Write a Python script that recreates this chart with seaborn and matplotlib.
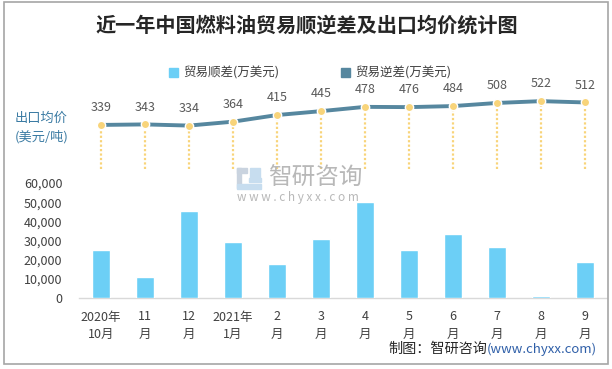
import numpy as np
import pandas as pd
import matplotlib
matplotlib.use("Agg")
import matplotlib.pyplot as plt
from matplotlib.patches import Patch, Rectangle
import seaborn as sns

# ---- data ----
months = ["2020年\n10月", "11\n月", "12\n月", "2021年\n1月", "2\n月", "3\n月",
          "4\n月", "5\n月", "6\n月", "7\n月", "8\n月", "9\n月"]
trade_surplus = [24900, 10700, 45600, 29400, 18000, 31000,
                 50300, 25300, 33600, 26800, 1200, 19000]
export_price = [339, 343, 334, 364, 415, 445, 478, 476, 484, 508, 522, 512]
y_ticks = [0, 10000, 20000, 30000, 40000, 50000, 60000]
title = "近一年中国燃料油贸易顺逆差及出口均价统计图"
legend_labels = ["贸易顺差(万美元)", "贸易逆差(万美元)"]

BAR_C = "#6ccff6"
LINE_C = "#56879f"
GOLD = "#f8d47a"

sns.set_theme(style="white")
plt.rcParams["font.family"] = ["Noto Sans CJK SC", "DejaVu Sans"]
plt.rcParams["axes.unicode_minus"] = False

df = pd.DataFrame({"month": months, "surplus": trade_surplus, "price": export_price})
df["pos"] = np.arange(len(df))

W, H = 612, 369
fig = plt.figure(figsize=(W / 100, H / 100), dpi=100)

def fx(x):
    return x / W

def fy(y):
    return 1 - y / H

# frame
fig.patches.append(Rectangle((fx(4), fy(364)), fx(604), 362 / H, transform=fig.transFigure,
                             fill=False, ec="#a6a6a6", lw=1.2, zorder=0))

# ---- bar axes ----
ax_bar = fig.add_axes([fx(79), fy(298), fx(607) - fx(79), fy(183) - fy(298)])
sns.barplot(data=df, x="month", y="surplus", ax=ax_bar, color=BAR_C, saturation=1,
            width=0.41, zorder=3)
ax_bar.set_xlim(-0.5, len(months) - 0.5)
ax_bar.set_ylim(0, 60000)
ax_bar.set_yticks(y_ticks)
ax_bar.set_yticklabels([f"{v:,}" for v in y_ticks])
ax_bar.set_xlabel("")
ax_bar.set_ylabel("")
ax_bar.patch.set_alpha(0)
for s in ["top", "right", "left"]:
    ax_bar.spines[s].set_visible(False)
ax_bar.spines["bottom"].set_color("#d9d9d9")
ax_bar.spines["bottom"].set_linewidth(1.0)
ax_bar.spines["bottom"].set_zorder(1)
ax_bar.tick_params(axis="y", length=0, pad=12, labelsize=9, labelcolor="#404040")
ax_bar.tick_params(axis="x", length=0, pad=9, labelsize=9, labelcolor="#404040")
for t in ax_bar.get_xticklabels():
    t.set_linespacing(1.45)

# ---- line axes ----
ax_line = fig.add_axes([fx(79), fy(169), fx(607) - fx(79), fy(91) - fy(169)])
ax_line.vlines(df["pos"], 0, df["price"], colors=GOLD, linestyles=(0, (1, 1)), lw=1.6, zorder=1)
sns.lineplot(data=df, x="pos", y="price", ax=ax_line, color=LINE_C, lw=2.8, zorder=2)
sns.scatterplot(data=df, x="pos", y="price", ax=ax_line, color=GOLD, s=36,
                edgecolor="white", linewidth=1, zorder=3)
for i, v in enumerate(export_price):
    ax_line.annotate(f"{v}", (i, v), xytext=(0, 12.5), textcoords="offset points",
                     ha="center", va="center", fontsize=9, color="#595959")
ax_line.set_xlim(-0.5, len(months) - 0.5)
ax_line.set_ylim(0, 600)
ax_line.axis("off")

# ---- watermark ----
wm_c = "#b8b8b8"
for (x0, y0, w, h, c) in [(237, 168, 10, 5, "#c9d3df"), (237, 168, 4, 20, "#c9d3df"),
                          (250, 168, 10, 10, "#c7ddef"), (249, 178, 12, 4, "#c7ddef"),
                          (237, 184, 24, 5, "#c7ddef")]:
    fig.patches.append(Rectangle((fx(x0), fy(y0 + h)), w / W, h / H, transform=fig.transFigure,
                                 color=c, zorder=1))
fig.text(fx(268), fy(178), "智研咨询", fontsize=17, color=wm_c, ha="left", va="center", zorder=1)
fig.text(fx(237), fy(198), "w w w . c h y x x . c o m", fontsize=8.5, color=wm_c,
         ha="left", va="center", zorder=1)

# ---- title ----
fig.text(fx(307), fy(25), title, fontsize=14.5, fontweight="bold", color="#262626",
         ha="center", va="center")

# ---- legend ----
handles = [Patch(color=BAR_C), Patch(color=LINE_C)]
fig.legend(handles, legend_labels, loc="center", bbox_to_anchor=(fx(310), fy(73)), ncol=2,
           frameon=False, fontsize=9, handlelength=0.7, handleheight=0.7,
           handletextpad=0.4, columnspacing=5.0, labelcolor="#404040")

# ---- left label ----
fig.text(fx(15), fy(118), "出口均价", fontsize=9.5, color="#3b7ba3", ha="left", va="center")
fig.text(fx(15), fy(137), "(美元/吨)", fontsize=9.5, color="#3b7ba3", ha="left", va="center")

# ---- footer ----
t1 = fig.text(fx(388), fy(349), "制图：智研咨询", fontsize=10.2, color="#262626",
              ha="left", va="center")
fig.canvas.draw()
bb = t1.get_window_extent()
fig.text(bb.x1 / W, fy(349), "(www.chyxx.com)", fontsize=9.5, color="#2f5fa8",
         ha="left", va="center")

fig.savefig("out.png", dpi=100)
